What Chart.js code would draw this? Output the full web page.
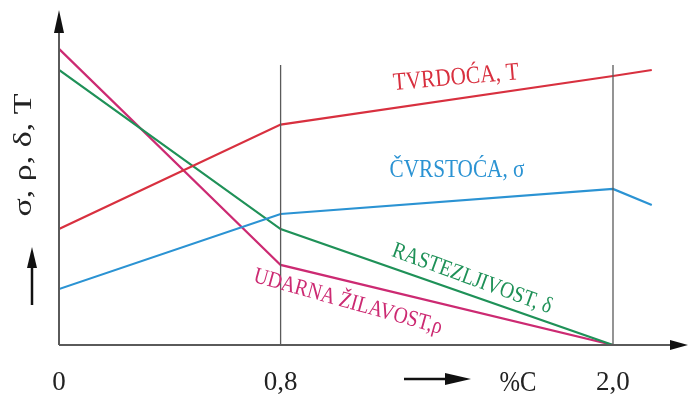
<!DOCTYPE html>
<html>
<head>
<meta charset="utf-8">
<script src="https://cdn.jsdelivr.net/npm/chart.js@4.4.0/dist/chart.umd.min.js"></script>
<style>
  html, body { margin:0; padding:0; background:#fff; }
  #wrap { width:689px; height:401px; }
</style>
</head>
<body>
<div id="wrap"><canvas id="c"></canvas></div>
<script>
// carbon content (%C) and relative property values (arbitrary units)
const carbon      = [0, 0.8, 2.0];
const carbonEnd   = 2.14;
const tvrdoca     = [34.6, 65.8, 80.3, 82.1];   // T, hardness
const cvrstoca    = [16.7, 39.1, 46.6, 41.8];   // sigma, strength
const rastezljiv  = [82.1, 34.6, 0];            // delta, elongation
const zilavost    = [88.4, 23.9, 0];            // rho, toughness
const xTicks      = [0, 0.8, 2.0];
const markerX     = [0.8, 2.0];
const markerTop   = 83.6;

const RED = '#d8303f', BLUE = '#2b93d3', GREEN = '#1f9158', MAGENTA = '#cc2a72';
const AXIS = '#5a5a5a';

function pts(xs, ys){ return ys.map((y, i) => ({x: xs[i], y: y})); }
const xs4 = carbon.concat([carbonEnd]);

const datasets = [
  { data: pts(xs4, tvrdoca), borderColor: RED },
  { data: pts(xs4, cvrstoca), borderColor: BLUE },
  { data: pts(carbon, rastezljiv), borderColor: GREEN },
  { data: pts(carbon, zilavost), borderColor: MAGENTA }
].map(d => Object.assign(d, { borderWidth: 2.2, pointRadius: 0, tension: 0 }));

markerX.forEach(x => datasets.unshift({
  data: [{x: x, y: 0}, {x: x, y: markerTop}],
  borderColor: AXIS, borderWidth: 1.3, pointRadius: 0
}));

// labels, arrows and axis decoration
const decor = {
  id: 'decor',
  afterDraw(chart){
    const ctx = chart.ctx, a = chart.chartArea;
    ctx.save();
    // axes
    ctx.strokeStyle = AXIS; ctx.fillStyle = '#111'; ctx.lineWidth = 2;
    ctx.beginPath();
    ctx.moveTo(a.left, a.bottom); ctx.lineTo(a.left, a.top + 12);
    ctx.moveTo(a.left, a.bottom); ctx.lineTo(a.right, a.bottom);
    ctx.stroke();
    ctx.beginPath(); // y arrow
    ctx.moveTo(a.left, a.top); ctx.lineTo(a.left - 5, a.top + 23); ctx.lineTo(a.left + 5, a.top + 23);
    ctx.closePath(); ctx.fill();
    ctx.beginPath(); // x arrow
    ctx.moveTo(a.right + 16, a.bottom); ctx.lineTo(a.right - 2, a.bottom - 5); ctx.lineTo(a.right - 2, a.bottom + 5);
    ctx.closePath(); ctx.fill();

    function txt(s, x, y, rot, size, color, sx, sy){
      ctx.save();
      ctx.translate(x, y); ctx.rotate(rot * Math.PI / 180); ctx.scale(sx || 0.85, sy || 1);
      ctx.font = size + 'px "Liberation Serif", serif';
      ctx.fillStyle = color; ctx.textAlign = 'center'; ctx.textBaseline = 'middle';
      ctx.fillText(s, 0, 0);
      ctx.restore();
    }
    txt('TVRDOĆA, T', 456, 78, -5, 25, RED);
    txt('ČVRSTOĆA, σ', 457, 170, 0, 25, BLUE);
    txt('RASTEZLJIVOST, δ', 472, 279, 20, 23, GREEN);
    txt('UDARNA ŽILAVOST,ρ', 348, 302, 15.5, 23, MAGENTA);
    txt('σ, ρ, δ, T', 24, 155, -90, 34, '#222', 1.0, 0.75);
    txt('%C', 518, 383, 0, 29, '#222');

    // small arrows next to the axis titles
    ctx.strokeStyle = '#111'; ctx.lineWidth = 2.5;
    ctx.beginPath(); ctx.moveTo(32, 305); ctx.lineTo(32, 262); ctx.stroke();
    ctx.beginPath(); ctx.moveTo(32, 247); ctx.lineTo(27, 268); ctx.lineTo(37, 268); ctx.closePath(); ctx.fill();
    ctx.beginPath(); ctx.moveTo(404, 379); ctx.lineTo(455, 379); ctx.stroke();
    ctx.beginPath(); ctx.moveTo(471, 379); ctx.lineTo(445, 373); ctx.lineTo(445, 385); ctx.closePath(); ctx.fill();
    ctx.restore();
  }
};

new Chart(document.getElementById('c'), {
  type: 'line',
  data: { datasets: datasets },
  options: {
    responsive: true, maintainAspectRatio: false, animation: false,
    layout: { padding: { left: 59, right: 17, top: 10, bottom: 6 } },
    plugins: { legend: { display: false }, tooltip: { enabled: false } },
    scales: {
      x: {
        type: 'linear', min: 0, max: 2.213,
        afterBuildTicks: s => { s.ticks = xTicks.map(v => ({ value: v })); },
        afterFit: s => { s.height = 50; },
        grid: { display: false, drawTicks: false },
        border: { display: false },
        ticks: {
          padding: 22, color: '#222', maxRotation: 0, autoSkip: false,
          font: { family: '"Liberation Serif", serif', size: 27 },
          callback: v => v === 0 ? '0' : v.toFixed(1).replace('.', ',')
        }
      },
      y: { display: false, min: 0, max: 100 }
    }
  },
  plugins: [decor]
});
</script>
</body>
</html>
